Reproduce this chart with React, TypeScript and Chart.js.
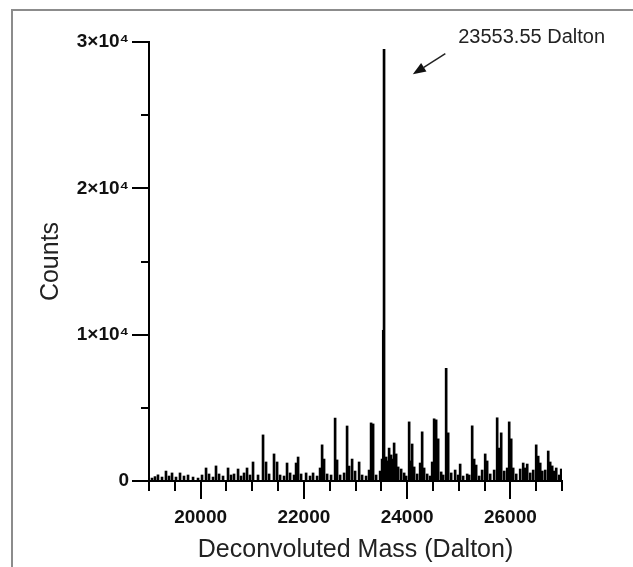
import { useEffect, useRef } from 'react';
import { Chart, registerables } from 'chart.js';

Chart.register(...registerables);

// Deconvoluted mass (Dalton) of each peak
const massDa = [
  19058, 19116, 19174, 19252, 19329, 19388, 19446, 19523, 19601, 19678, 19756, 19853, 19950,
  20027, 20105, 20163, 20240, 20298, 20357, 20434, 20531, 20589, 20647, 20725, 20783, 20841, 20899, 20957,
  21015, 21112, 21209, 21267, 21326, 21422, 21481, 21539, 21616, 21674, 21733, 21810, 21849, 21888, 21946,
  22043, 22120, 22178, 22256, 22314, 22353, 22391, 22450, 22527, 22605, 22643, 22702, 22779, 22837, 22876, 22934, 22992,
  23070, 23128, 23205, 23263, 23302, 23341, 23399, 23477, 23515, 23538, 23553, 23593, 23632, 23651, 23690, 23729, 23748, 23787, 23826, 23884, 23942, 23981,
  24039, 24078, 24097, 24136, 24194, 24252, 24291, 24329, 24388, 24446, 24485, 24523, 24562, 24601, 24659, 24698, 24756, 24795, 24853, 24930, 24988,
  25027, 25085, 25163, 25202, 25260, 25298, 25337, 25395, 25453, 25512, 25550, 25609, 25686, 25744, 25783, 25822, 25880, 25938, 25977,
  26016, 26054, 26113, 26190, 26248, 26287, 26326, 26384, 26442, 26500, 26539, 26578, 26617, 26675, 26733, 26771, 26810, 26849, 26888, 26946, 26985,
];

// Counts of each peak
const counts = [
  200, 300, 420, 270, 680, 340, 550, 270, 550, 340, 410, 270, 200,
  410, 890, 480, 270, 1030, 480, 340, 890, 410, 480, 820, 340, 550, 890, 410,
  1300, 410, 3150, 1300, 480, 1850, 1300, 410, 340, 1230, 550, 410, 1230, 1640, 480,
  550, 340, 550, 340, 890, 2470, 1500, 480, 410, 4300, 1440, 410, 550, 3760, 1020, 1500, 680,
  1300, 410, 340, 750, 3970, 3900, 410, 680, 1500, 10300, 29500, 1640, 1370, 2250, 1780, 1500, 2600, 1850, 960, 820, 550, 340,
  4040, 1370, 2530, 960, 480, 1230, 3360, 890, 480, 340, 1300, 4250, 4180, 2880, 620, 410, 7700, 3290, 550, 750, 410,
  1160, 340, 480, 410, 3770, 1500, 1090, 340, 750, 1850, 1370, 480, 750, 4320, 2250, 3290, 680, 890, 4040,
  2880, 890, 480, 820, 1230, 890, 1160, 550, 750, 2470, 1700, 1230, 680, 750, 2050, 1300, 1030, 680, 890, 410, 820,
];

const xMajorTicks = [20000, 22000, 24000, 26000];
const yMajorTicks = [0, 10000, 20000, 30000];
const yTickLabels = ['0', '1×10⁴', '2×10⁴', '3×10⁴'];
const xTitle = 'Deconvoluted Mass (Dalton)';
const yTitle = 'Counts';
const peakLabel = '23553.55 Dalton';
// annotation anchor points in data units
const labelAt = { x: 24990, y: 29900 };
const arrowFrom = { x: 24740, y: 29200 };
const arrowTo = { x: 24110, y: 27800 };

const FONT = "'Liberation Sans', Arial, Helvetica, sans-serif";

const tickMarks = {
  id: 'tickMarks',
  afterDraw(chart: any) {
    const { ctx, scales } = chart;
    const xs = scales.x;
    const ys = scales.y;
    ctx.save();
    ctx.strokeStyle = '#000';
    ctx.lineWidth = 2;
    ctx.beginPath();
    for (const t of xs.ticks) {
      const px = Math.round(xs.getPixelForValue(t.value));
      const len = xMajorTicks.includes(t.value) ? 18 : 10;
      ctx.moveTo(px, ys.bottom);
      ctx.lineTo(px, ys.bottom + len);
    }
    for (const t of ys.ticks) {
      const py = Math.round(ys.getPixelForValue(t.value));
      const len = yMajorTicks.includes(t.value) ? 17 : 8;
      ctx.moveTo(xs.left, py);
      ctx.lineTo(xs.left - len, py);
    }
    ctx.stroke();

    // annotation
    const tx = xs.getPixelForValue(arrowTo.x);
    const ty = ys.getPixelForValue(arrowTo.y);
    const fx = xs.getPixelForValue(arrowFrom.x);
    const fy = ys.getPixelForValue(arrowFrom.y);
    const ang = Math.atan2(ty - fy, tx - fx);
    const headLen = 13;
    const headW = 5;
    const bx = tx - headLen * Math.cos(ang);
    const by = ty - headLen * Math.sin(ang);
    ctx.lineWidth = 1.5;
    ctx.strokeStyle = '#222';
    ctx.beginPath();
    ctx.moveTo(fx, fy);
    ctx.lineTo(bx, by);
    ctx.stroke();
    ctx.fillStyle = '#111';
    ctx.beginPath();
    ctx.moveTo(tx, ty);
    ctx.lineTo(bx + headW * Math.sin(ang), by - headW * Math.cos(ang));
    ctx.lineTo(bx - headW * Math.sin(ang), by + headW * Math.cos(ang));
    ctx.closePath();
    ctx.fill();

    ctx.fillStyle = '#222';
    ctx.font = `20px ${FONT}`;
    ctx.textAlign = 'left';
    ctx.textBaseline = 'alphabetic';
    ctx.fillText(peakLabel, xs.getPixelForValue(labelAt.x), ys.getPixelForValue(labelAt.y));
    ctx.restore();
  },
};

export default function App() {
  const ref = useRef<HTMLCanvasElement | null>(null);
  useEffect(() => {
    if (!ref.current) return;
    const points = massDa.map((m, i) => ({ x: m, y: counts[i] }));
    const chart = new Chart(ref.current, {
      type: 'bar',
      data: {
        datasets: [
          {
            data: points as any,
            backgroundColor: '#000',
            borderWidth: 0,
            barThickness: 2,
          },
        ],
      },
      options: {
        animation: false,
        responsive: false,
        maintainAspectRatio: false,
        layout: { padding: { left: 0, right: 71, top: 42, bottom: 0 } },
        plugins: { legend: { display: false }, tooltip: { enabled: false } },
        scales: {
          x: {
            type: 'linear',
            min: 19000,
            max: 27000,
            offset: false,
            grid: { display: true, drawOnChartArea: false, drawTicks: false, offset: false },
            border: { display: true, color: '#000', width: 2 },
            ticks: {
              stepSize: 500,
              autoSkip: false,
              maxRotation: 0,
              padding: 25,
              color: '#111',
              font: { family: FONT, size: 19, weight: 'bold' },
              callback: (v: any) => (xMajorTicks.includes(v) ? String(v) : ''),
            },
            title: {
              display: true,
              text: xTitle,
              color: '#222',
              font: { family: FONT, size: 25 },
              padding: { top: 0, bottom: 2 },
            },
            afterFit: (s: any) => {
              s.height = 86;
            },
          },
          y: {
            type: 'linear',
            min: 0,
            max: 30000,
            grid: { display: true, drawOnChartArea: false, drawTicks: false },
            border: { display: true, color: '#000', width: 2 },
            ticks: {
              stepSize: 5000,
              autoSkip: false,
              padding: 20,
              color: '#111',
              font: { family: FONT, size: 19, weight: 'bold' },
              callback: (v: any) => {
                const i = yMajorTicks.indexOf(v);
                return i >= 0 ? yTickLabels[i] : '';
              },
            },
            title: {
              display: true,
              text: yTitle,
              color: '#222',
              font: { family: FONT, size: 25 },
              padding: { top: 36, bottom: 0 },
            },
            afterFit: (s: any) => {
              s.width = 149;
            },
          },
        },
      },
      plugins: [tickMarks],
    });
    return () => chart.destroy();
  }, []);

  return (
    <div style={{ position: 'absolute', left: 0, top: 0, width: 633, height: 567, overflow: 'hidden', background: '#fff' }}>
      <canvas ref={ref} width={633} height={567} style={{ position: 'absolute', left: 0, top: 0, width: 633, height: 567 }} />
      <div
        style={{
          position: 'absolute',
          left: 11,
          top: 9,
          width: 700,
          height: 700,
          borderLeft: '2px solid #8c8c8c',
          borderTop: '2px solid #8c8c8c',
          pointerEvents: 'none',
        }}
      />
    </div>
  );
}
